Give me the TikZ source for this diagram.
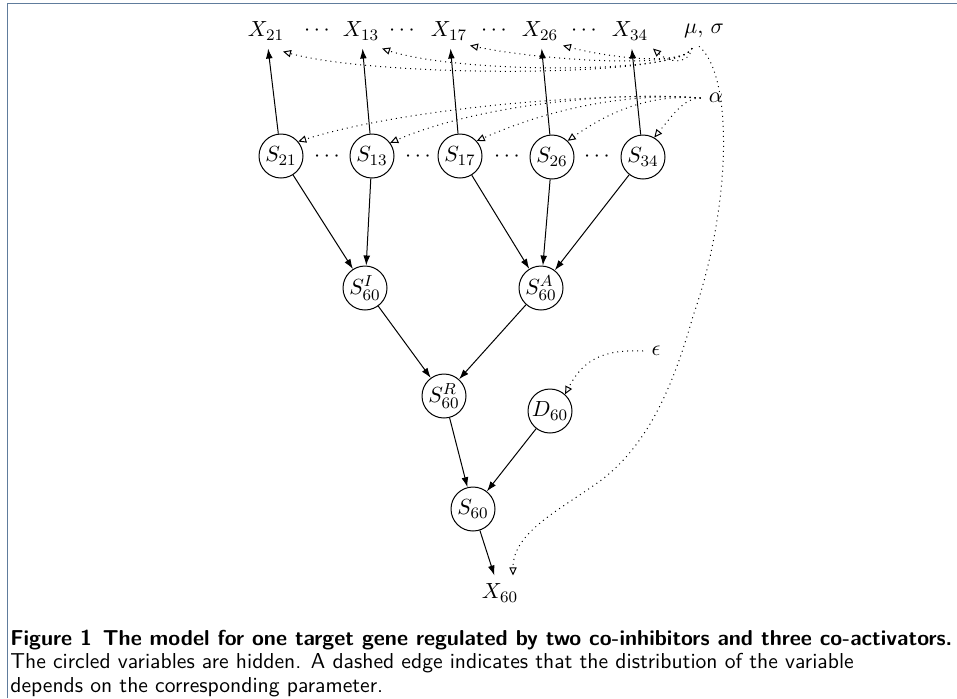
\documentclass[tikz,border=0pt]{standalone}
\usetikzlibrary{arrows.meta,calc}
\definecolor{framecol}{RGB}{96,124,156}
\begin{document}
\begin{tikzpicture}[x=0.5pt,y=-0.5pt,
  lab/.style={inner sep=4pt, font=\fontsize{11}{13}\selectfont},
  hid/.style={circle, draw, line width=0.5pt, minimum size=22pt, inner sep=0.5pt, font=\fontsize{11}{13}\selectfont},
  sol/.style={line width=0.5pt, -{Latex[length=5pt,width=3.4pt]}},
  par/.style={dotted, line width=0.5pt, -{Triangle[open,length=4pt,width=3.6pt]}},
]
\useasboundingbox (0,0) rectangle (957,698);
\draw[framecol, line width=0.8pt] (7.5,698) -- (7.5,3.5) -- (957,3.5);

% observed row
\node[lab] (X21) at (266,31) {$X_{21}$};
\node[lab] (d1)  at (317,31) {$\cdots$};
\node[lab] (X13) at (361,31) {$X_{13}$};
\node[lab] (d2)  at (402,31) {$\cdots$};
\node[lab] (X17) at (449,31) {$X_{17}$};
\node[lab] (d3)  at (494,31) {$\cdots$};
\node[lab] (X26) at (540,31) {$X_{26}$};
\node[lab] (d4)  at (584,31) {$\cdots$};
\node[lab] (X34) at (630,31) {$X_{34}$};
\node[lab] (ms)  at (704,31) {$\mu,\,\sigma$};
\node[lab] (al)  at (716,98) {$\alpha$};

% hidden row
\node[hid] (S21) at (281,156) {$S_{21}$};
\node[lab] (e1)  at (327,157) {$\cdots$};
\node[hid] (S13) at (372,156) {$S_{13}$};
\node[lab] (e2)  at (418,157) {$\cdots$};
\node[hid] (S17) at (460,156) {$S_{17}$};
\node[lab] (e3)  at (507,157) {$\cdots$};
\node[hid] (S26) at (552,157) {$S_{26}$};
\node[lab] (e4)  at (597,157) {$\cdots$};
\node[hid] (S34) at (643,157) {$S_{34}$};

\node[hid] (SI) at (365,288) {$S^I_{60}$};
\node[hid] (SA) at (541,288) {$S^A_{60}$};
\node[hid] (SR) at (444,396) {$S^R_{60}$};
\node[hid] (D60) at (550,411) {$D_{60}$};
\node[hid] (S60) at (473,509) {$S_{60}$};
\node[lab] (X60) at (500,593) {$X_{60}$};
\node[lab] (eps) at (656,351) {$\epsilon$};

% solid edges
\draw[sol] (S21) -- (X21);
\draw[sol] (S13) -- (X13);
\draw[sol] (S17) -- (X17);
\draw[sol] (S26) -- (X26);
\draw[sol] (S34) -- (X34);
\draw[sol] (S21) -- (SI);
\draw[sol] (S13) -- (SI);
\draw[sol] (S17) -- (SA);
\draw[sol] (S26) -- (SA);
\draw[sol] (S34) -- (SA);
\draw[sol] (SI) -- (SR);
\draw[sol] (SA) -- (SR);
\draw[sol] (SR) -- (S60);
\draw[sol] (D60) -- (S60);
\draw[sol] (S60) -- (X60);

% parameter edges
\draw[par] ($(ms.south)+(-12,2)$) .. controls (680,78) and (380,78) .. ($(X21.south)+(17,3)$);
\draw[par] ($(ms.south)+(-12,2)$) .. controls (683,74) and (460,74) .. ($(X13.south)+(21,0)$);
\draw[par] ($(ms.south)+(-12,2)$) .. controls (683,70) and (540,60) .. ($(X17.south)+(21,-3)$);
\draw[par] ($(ms.south)+(-12,2)$) .. controls (683,66) and (610,58) .. ($(X26.south)+(23,-3)$);
\draw[par] ($(ms.south)+(-12,2)$) .. controls (688,66) and (668,62) .. ($(X34.south)+(23,0)$);
\draw[par] ($(ms.south)+(-5,0)$) .. controls (735,77) and (730,212) .. (693,316)
   .. controls (675,380) and (650,444) .. (600,481)
   .. controls (560,510) and (513,532) .. ($(X60.north)+(13,0)$);

\draw[par] (al.west) .. controls (600,91) and (400,109) .. (S21.40);
\draw[par] (al.west) .. controls (620,91) and (480,104) .. (S13.36);
\draw[par] (al.west) .. controls (640,93) and (560,104) .. (S17.42);
\draw[par] (al.west) .. controls (660,95) and (620,104) .. (S26.46);
\draw[par] (al.west) .. controls (685,98) and (675,112) .. (S34.60);

\draw[par] (eps.west) .. controls (600,349) and (582,362) .. (D60.48);

% caption
\node[anchor=base west, inner sep=0pt, align=left,
      font=\sffamily\fontsize{10.8}{11.6}\selectfont] (cap) at (10,692)
  {\textbf{Figure 1\enspace The model for one target gene regulated by two co-inhibitors and three co-activators.}\\
   The circled variables are hidden. A dashed edge indicates that the distribution of the variable\\
   depends on the corresponding parameter.};
\end{tikzpicture}
\end{document}
